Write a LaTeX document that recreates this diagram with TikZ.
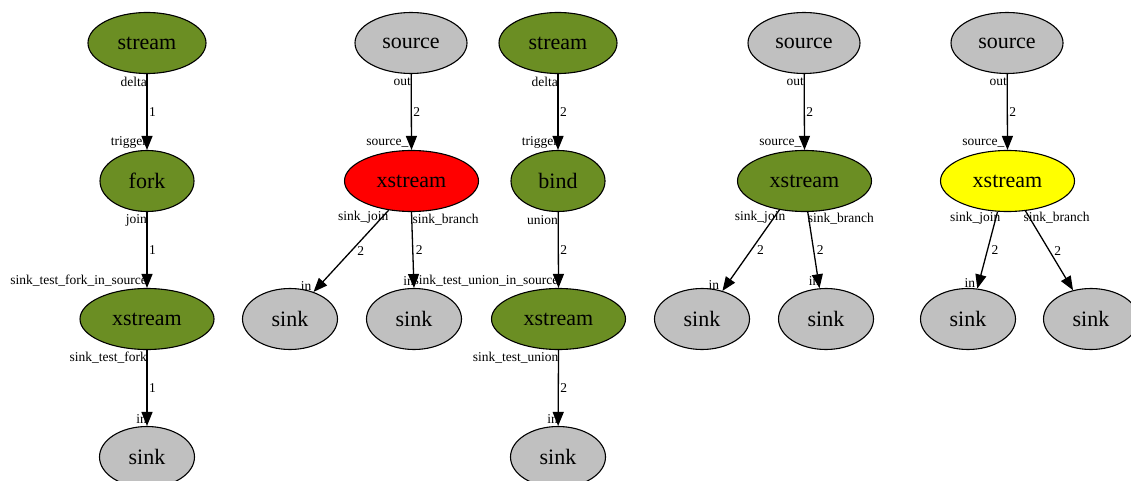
\documentclass[tikz,border=0pt]{standalone}
\usepackage{fontspec}
\setmainfont{Liberation Serif}
\usetikzlibrary{arrows.meta,shapes.geometric}
\definecolor{nodegreen}{HTML}{6B8E23}
\definecolor{nodegray}{HTML}{C0C0C0}
\definecolor{nodered}{HTML}{FF0000}
\definecolor{nodeyellow}{HTML}{FFFF00}
\begin{document}
\begin{tikzpicture}[x=1pt,y=-1pt,
  blob/.style={ellipse, draw=black, line width=1.1pt, inner sep=0pt,
    minimum height=61pt, font=\fontsize{22}{24}\selectfont},
  green/.style={blob, fill=nodegreen},
  grey/.style={blob, fill=nodegray},
  red/.style={blob, fill=nodered},
  yellow/.style={blob, fill=nodeyellow},
  wstream/.style={minimum width=118pt},
  wsource/.style={minimum width=112pt},
  wsmall/.style={minimum width=94pt},
  wxs/.style={minimum width=134pt},
  wsink/.style={minimum width=95pt},
  lbl/.style={font=\fontsize{13.5}{14}\selectfont, inner sep=0pt},
  tailr/.style={lbl, anchor=east},
  taill/.style={lbl, anchor=west},
  headl/.style={lbl, anchor=east},
  elbl/.style={lbl, midway, anchor=west, xshift=1.5pt},
  flow/.style={draw=black, line width=1.3pt, -{Triangle[length=14pt,width=11pt]}}
]
\useasboundingbox (0,0) rectangle (1131,481);

% ---------- nodes ----------
% fork pipeline
\node[green, wstream] (s1) at (147,43) {stream};
\node[green, wsmall]  (f1) at (147,181) {fork};
\node[green, wxs]     (x1) at (147,319) {xstream};
\node[grey, wsink]    (k1) at (147,457) {sink};
% source with red xstream
\node[grey, wsource]  (o2)  at (411,43) {source};
\node[red, wxs]       (x2)  at (411.5,181) {xstream};
\node[grey, wsink]    (ka2) at (290,319) {sink};
\node[grey, wsink]    (kb2) at (414,319) {sink};
% bind pipeline
\node[green, wstream] (s3) at (558,43) {stream};
\node[green, wsmall]  (b3) at (558,181) {bind};
\node[green, wxs]     (x3) at (558.5,319) {xstream};
\node[grey, wsink]    (k3) at (558,457) {sink};
% source with green xstream
\node[grey, wsource]  (o4)  at (804,43) {source};
\node[green, wxs]     (x4)  at (804.5,181) {xstream};
\node[grey, wsink]    (ka4) at (702,319) {sink};
\node[grey, wsink]    (kb4) at (826,319) {sink};
% source with yellow xstream
\node[grey, wsource]  (o5)  at (1007,43) {source};
\node[yellow, wxs]    (x5)  at (1007.5,181) {xstream};
\node[grey, wsink]    (ka5) at (968,319) {sink};
\node[grey, wsink]    (kb5) at (1091,319) {sink};

% ---------- port labels ----------
\node[tailr] at ([yshift=-8pt]s1.south) {delta};
\node[headl] at ([yshift=7pt]f1.north) {trigger};
\node[tailr] at ([yshift=-8pt]f1.south) {join};
\node[headl] at ([yshift=7pt]x1.north) {sink\_test\_fork\_in\_source};
\node[tailr] at ([yshift=-8pt]x1.south) {sink\_test\_fork};
\node[headl] at ([yshift=7pt]k1.north) {in};

\node[tailr] at ([yshift=-8pt]o2.south) {out};
\node[headl] at ([xshift=-3pt,yshift=7pt]x2.north) {source\_};
\node[tailr] at ([yshift=-7pt]x2.232) {sink\_join};
\node[taill] at ([xshift=1pt,yshift=-8pt]x2.south) {sink\_branch};
\node[headl] at ([xshift=-2pt,yshift=6pt]ka2.49) {in};
\node[headl] at ([yshift=7pt]kb2.north) {in};

\node[tailr] at ([yshift=-8pt]s3.south) {delta};
\node[headl] at ([yshift=7pt]b3.north) {trigger};
\node[tailr] at ([yshift=-8pt]b3.south) {union};
\node[headl] at ([yshift=7pt]x3.north) {sink\_test\_union\_in\_source};
\node[tailr] at ([yshift=-8pt]x3.south) {sink\_test\_union};
\node[headl] at ([yshift=7pt]k3.north) {in};

\node[tailr] at ([yshift=-8pt]o4.south) {out};
\node[headl] at ([xshift=-3pt,yshift=7pt]x4.north) {source\_};
\node[tailr] at ([xshift=6pt,yshift=-7pt]x4.229) {sink\_join};
\node[taill] at ([yshift=-7pt]x4.276) {sink\_branch};
\node[headl] at ([xshift=-3pt,yshift=6pt]ka4.54) {in};
\node[headl] at ([yshift=7pt]kb4.102) {in};

\node[tailr] at ([yshift=-8pt]o5.south) {out};
\node[headl] at ([xshift=-3pt,yshift=7pt]x5.north) {source\_};
\node[tailr] at ([xshift=3pt,yshift=-7pt]x5.252) {sink\_join};
\node[taill] at ([xshift=-2pt,yshift=-7pt]x5.301) {sink\_branch};
\node[headl] at ([xshift=-2pt,yshift=6pt]ka5.73) {in};

% ---------- connectors ----------
\draw[flow] (s1) -- (f1) node[elbl] {1};
\draw[flow] (f1) -- (x1) node[elbl] {1};
\draw[flow] (x1) -- (k1) node[elbl] {1};

\draw[flow] (o2) -- (x2.north) node[elbl] {2};
\draw[flow] (x2.232) -- (ka2.49) node[elbl, xshift=4pt] {2};
\draw[flow] (x2.south) -- (kb2.north) node[elbl, xshift=1pt] {2};

\draw[flow] (s3) -- (b3) node[elbl] {2};
\draw[flow] (b3) -- (x3.north) node[elbl] {2};
\draw[flow] (x3.south) -- (k3) node[elbl] {2};

\draw[flow] (o4) -- (x4.north) node[elbl] {2};
\draw[flow] (x4.229) -- (ka4.54) node[elbl, xshift=4pt] {2};
\draw[flow] (x4.276) -- (kb4.102) node[elbl, xshift=1pt] {2};

\draw[flow] (o5) -- (x5.north) node[elbl] {2};
\draw[flow] (x5.252) -- (ka5.73) node[elbl, xshift=2pt] {2};
\draw[flow] (x5.301) -- (kb5.122) node[elbl, xshift=3pt] {2};
\end{tikzpicture}
\end{document}
